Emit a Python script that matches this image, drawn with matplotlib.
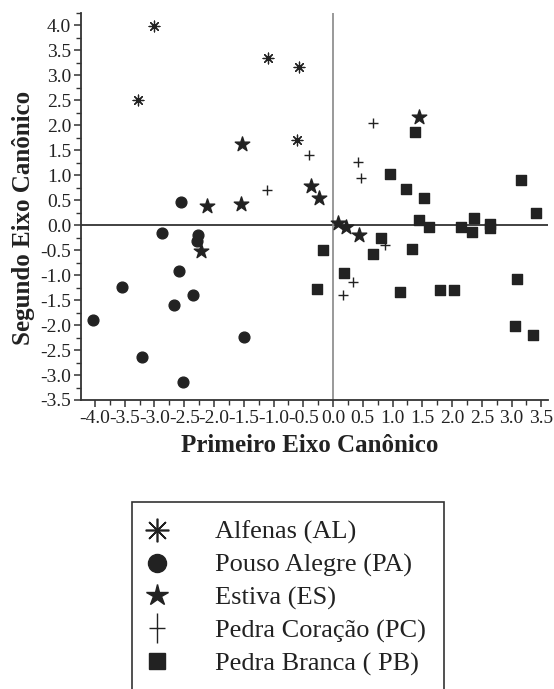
import numpy as np
import matplotlib
matplotlib.use("Agg")
import matplotlib.pyplot as plt
from matplotlib.lines import Line2D
from matplotlib.path import Path
from matplotlib.ticker import MultipleLocator, FormatStrFormatter

plt.rcParams['font.family'] = ['Liberation Serif', 'DejaVu Serif']
plt.rcParams['axes.unicode_minus'] = False

# scores on the first and second canonical axes, per location
al_x = [-3.01, -3.28, -1.09, -0.57, -0.61]
al_y = [3.99, 2.51, 3.35, 3.17, 1.70]

pa_x = [-2.55, -2.87, -2.27, -2.29, -2.59, -3.55, -2.35, -2.67, -4.03, -1.50, -3.21, -2.52]
pa_y = [0.46, -0.16, -0.20, -0.32, -0.92, -1.24, -1.40, -1.60, -1.90, -2.24, -2.64, -3.13]

es_x = [-1.53, -2.12, -1.55, -2.22, 1.45, -0.37, -0.24, 0.08, 0.22, 0.44]
es_y = [1.62, 0.38, 0.42, -0.52, 2.16, 0.78, 0.54, 0.04, -0.04, -0.20]

pc_x = [-1.11, 0.67, -0.40, 0.42, 0.47, 0.87, 0.34, 0.17]
pc_y = [0.70, 2.04, 1.40, 1.26, 0.94, -0.40, -1.14, -1.40]

pb_x = [1.38, 0.96, 1.23, 1.53, 3.16, 3.41, 1.45, 2.37, 1.61, 2.15, 2.34, 2.63, 2.64,
        -0.17, -0.27, 0.18, 0.81, 0.68, 1.33, 1.13, 1.80, 2.03, 3.09, 3.06, 3.36]
pb_y = [1.86, 1.02, 0.72, 0.54, 0.90, 0.24, 0.10, 0.14, -0.04, -0.04, -0.14, 0.02, -0.05,
        -0.50, -1.28, -0.95, -0.25, -0.58, -0.47, -1.34, -1.29, -1.29, -1.08, -2.01, -2.19]

labels = ['Alfenas (AL)', 'Pouso Alegre (PA)', 'Estiva (ES)',
          'Pedra Coração (PC)', 'Pedra Branca ( PB)']

ink = '#222222'
W, H = 554, 689
fig = plt.figure(figsize=(W / 100, H / 100), dpi=100)
ax = fig.add_axes([81 / W, 1 - 400 / H, (548 - 81) / W, (400 - 13) / H])

ax.axhline(0, color='#333333', lw=1.3, zorder=1)
ax.axvline(0, color='#888888', lw=1.2, zorder=1)

ax.scatter(al_x, al_y, marker=(8, 2, 0), s=60, color=ink, linewidths=0.9, zorder=3)
ax.scatter(pa_x, pa_y, marker='o', s=60, color=ink, zorder=3)
ax.scatter(es_x, es_y, marker='*', s=120, color=ink, zorder=3)
ax.scatter(pc_x, pc_y, marker='+', s=50, color=ink, linewidths=1.0, zorder=3)
ax.scatter(pb_x, pb_y, marker='s', s=60, color=ink, zorder=3)

ax.set_xlim(-4.235, 3.613)
ax.set_ylim(-3.5, 4.25)
ax.xaxis.set_minor_locator(MultipleLocator(0.25))
ax.yaxis.set_minor_locator(MultipleLocator(0.25))
ax.set_xticks(np.arange(-4.0, 3.51, 0.5))
ax.set_yticks(np.arange(-3.5, 4.01, 0.5))
ax.xaxis.set_major_formatter(FormatStrFormatter('%.1f'))
ax.yaxis.set_major_formatter(FormatStrFormatter('%.1f'))
ax.tick_params(which='major', direction='out', length=5, width=1.1, color='#333333',
               labelsize=14, pad=2, labelcolor='#222222')
ax.tick_params(which='minor', direction='out', length=3.5, width=1.0, color='#333333')

for side in ['top', 'right']:
    ax.spines[side].set_visible(False)
for side in ['left', 'bottom']:
    ax.spines[side].set_color('#333333')
    ax.spines[side].set_linewidth(1.3)

ax.set_xlabel('Primeiro Eixo Canônico', fontsize=18, fontweight='bold', color='#222222')
ax.set_ylabel('Segundo Eixo Canônico', fontsize=18, fontweight='bold', color='#222222')
ax.xaxis.set_label_coords(0.49, -0.088)
ax.yaxis.set_label_coords(-0.098, 0.47)

# tall thin cross used for the legend entry of Pedra Coração
tall_cross = Path([(0, -1), (0, 1), (-0.55, 0), (0.55, 0)],
                  [Path.MOVETO, Path.LINETO, Path.MOVETO, Path.LINETO])

# legend with larger symbols than in the plot
handles = [
    Line2D([], [], ls='', marker=(8, 2, 0), ms=17, mew=1.2, color=ink),
    Line2D([], [], ls='', marker='o', ms=13, color=ink),
    Line2D([], [], ls='', marker='*', ms=16, color=ink),
    Line2D([], [], ls='', marker=tall_cross, ms=21, mew=1.0, color=ink),
    Line2D([], [], ls='', marker='s', ms=11, color=ink),
]
leg = fig.legend(handles, labels, loc='upper left',
                 bbox_to_anchor=(132 / W, 1 - 502 / H), bbox_transform=fig.transFigure,
                 frameon=True, fancybox=False, fontsize=19, handlelength=0.5,
                 handletextpad=1.95, labelspacing=0.34, borderpad=0.7,
                 borderaxespad=0, framealpha=1)
leg.get_frame().set_edgecolor('#333333')
leg.get_frame().set_linewidth(1.2)
for t in leg.get_texts():
    t.set_color('#222222')

fig.savefig('out.png', dpi=100)
